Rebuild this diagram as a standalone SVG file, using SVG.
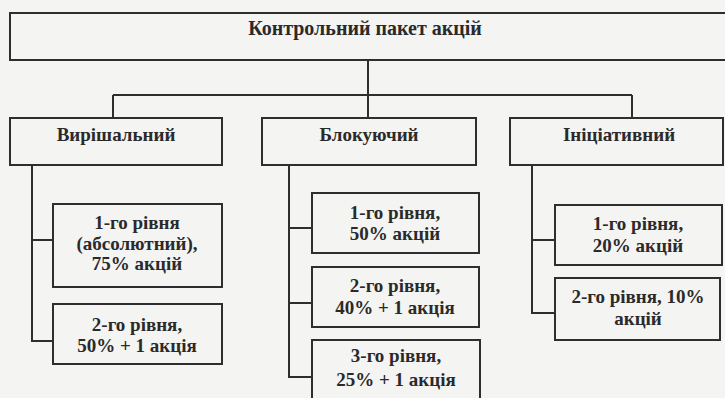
<svg xmlns="http://www.w3.org/2000/svg" width="725" height="398" viewBox="0 0 725 398">
<style>
.bx{fill:none;stroke:#2e2e2e;stroke-width:2}
.ln{fill:none;stroke:#2e2e2e;stroke-width:2}
text{font-family:"Liberation Serif","Times New Roman",serif;font-size:19px;font-weight:bold;fill:#2a2a2a;text-anchor:middle}
.t{font-size:20px}
</style>
<rect width="725" height="398" fill="#f4f4f2"/>
<g id="root">
<path class="bx" d="M726 13 H10 V60 H726"/>
<text class="t" x="365" y="35">Контрольний пакет акцій</text>
</g>
<g id="connectors">
<path class="ln" d="M368 60 V118 M113 95 H632 M113 95 V118 M632 95 V118"/>
<path class="ln" d="M32 165 V341 H53 M32 240 H53"/>
<path class="ln" d="M289 165 V377 H312 M289 228 H312 M289 303 H312"/>
<path class="ln" d="M532 165 V313 H555 M532 240 H555"/>
</g>
<g id="n-vyr">
<rect class="bx" x="10" y="118" width="212" height="47"/>
<text x="116" y="141">Вирішальний</text>
</g>
<g id="n-blok">
<rect class="bx" x="262" y="118" width="214" height="47"/>
<text x="369" y="141">Блокуючий</text>
</g>
<g id="n-init">
<rect class="bx" x="510" y="118" width="213" height="47"/>
<text x="619" y="141">Ініціативний</text>
</g>
<g id="n-vyr1">
<rect class="bx" x="53" y="204" width="169" height="83"/>
<text x="137" y="229">1-го рівня</text>
<text x="137" y="250">(абсолютний),</text>
<text x="137" y="270">75% акцій</text>
</g>
<g id="n-vyr2">
<rect class="bx" x="53" y="304" width="169" height="60"/>
<text x="137" y="331">2-го рівня,</text>
<text x="137" y="352">50% + 1 акція</text>
</g>
<g id="n-blok1">
<rect class="bx" x="312" y="193" width="167" height="60"/>
<text x="395" y="219">1-го рівня,</text>
<text x="395" y="240">50% акцій</text>
</g>
<g id="n-blok2">
<rect class="bx" x="312" y="267" width="167" height="60"/>
<text x="395" y="292">2-го рівня,</text>
<text x="395" y="314">40% + 1 акція</text>
</g>
<g id="n-blok3">
<rect class="bx" x="312" y="340" width="168" height="62"/>
<text x="396" y="362">3-го рівня,</text>
<text x="396" y="386">25% + 1 акція</text>
</g>
<g id="n-init1">
<rect class="bx" x="555" y="205" width="167" height="60"/>
<text x="638" y="230">1-го рівня,</text>
<text x="638" y="252">20% акцій</text>
</g>
<g id="n-init2">
<rect class="bx" x="555" y="278" width="165" height="62"/>
<text x="638" y="303">2-го рівня, 10%</text>
<text x="638" y="325">акцій</text>
</g>
</svg>
